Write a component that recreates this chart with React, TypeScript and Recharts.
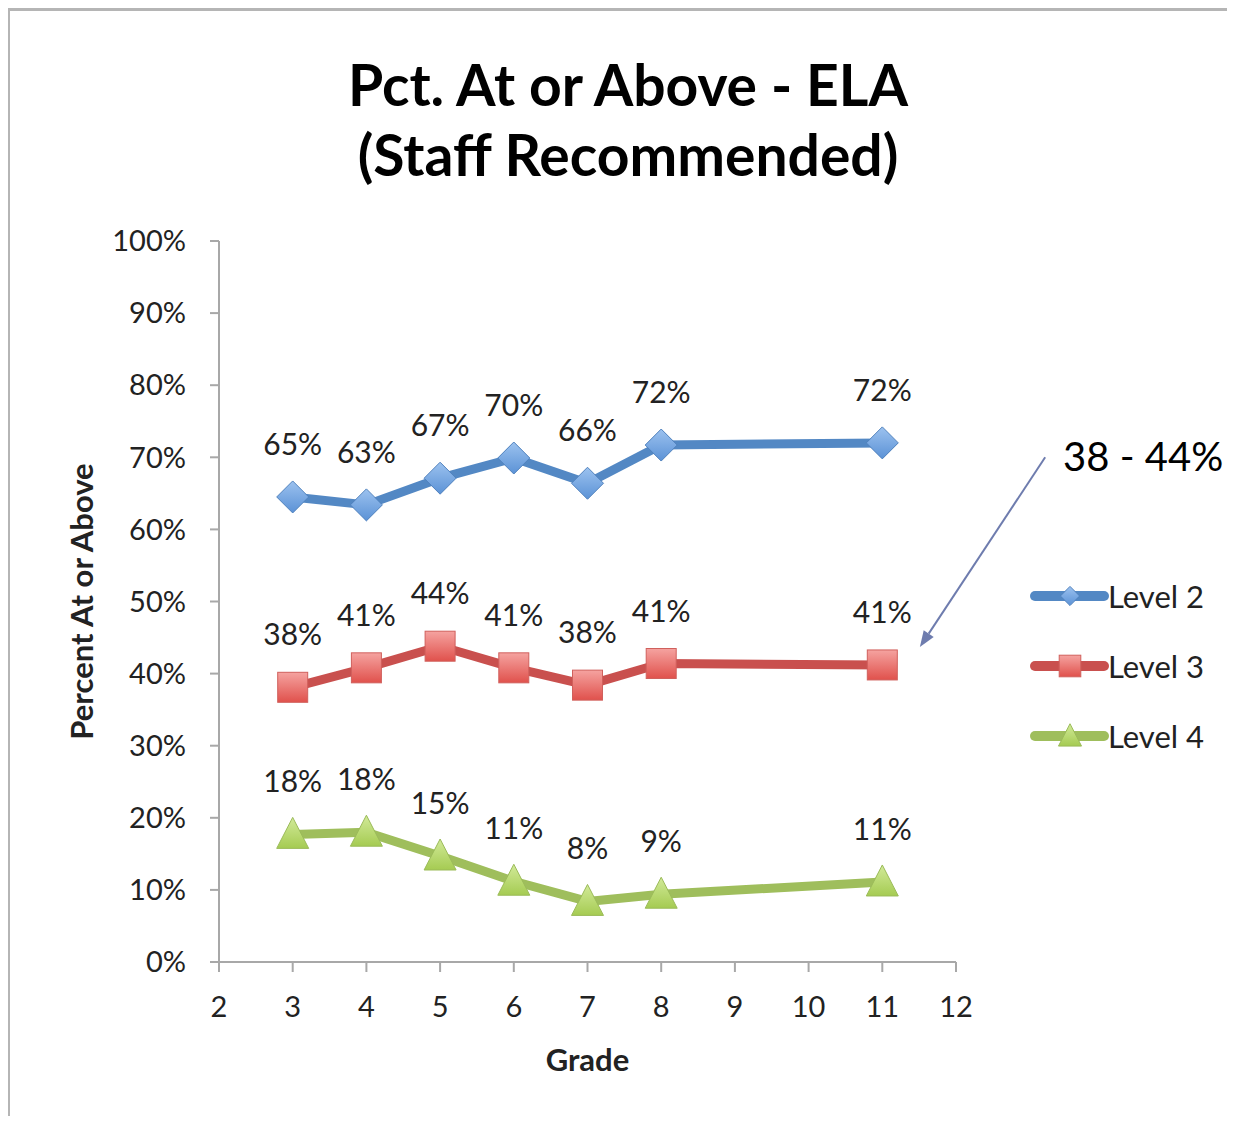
import React from 'react'
import { LineChart, Line, XAxis, YAxis, Legend, ReferenceLine, LabelList } from 'recharts'

const FONT = 'Lato, "Open Sans", sans-serif'

const grades = [3, 4, 5, 6, 7, 8, 11]
const level2 = [64.5, 63.4, 67.1, 69.9, 66.4, 71.7, 72.0]
const level3 = [38.1, 40.8, 43.8, 40.8, 38.4, 41.4, 41.2]
const level4 = [17.7, 18.0, 14.7, 11.2, 8.4, 9.4, 11.1]
const xTicks = [2, 3, 4, 5, 6, 7, 8, 9, 10, 11, 12]
const yTicks = [0, 10, 20, 30, 40, 50, 60, 70, 80, 90, 100]

const data = grades.map((g, i) => ({ grade: g, l2: level2[i], l3: level3[i], l4: level4[i] }))

// arrow from the "38 - 44%" note to the Level 3 line, in data units
const arrowFrom = { x: 13.21, y: 70.0 }
const arrowTo = { x: 11.51, y: 43.7 }

const SERIES = [
  { key: 'l2', name: 'Level 2', stroke: '#5388C4', fill: 'url(#gBlue)', edge: '#4F81BD', shape: 'diamond' },
  { key: 'l3', name: 'Level 3', stroke: '#C9504E', fill: 'url(#gRed)', edge: '#D0605C', shape: 'square' },
  { key: 'l4', name: 'Level 4', stroke: '#9FBE5C', fill: 'url(#gGreen)', edge: '#9BBB59', shape: 'triangle' },
]

const Marker = ({ cx, cy, shape, fill, edge, k = 1 }) => {
  if (cx == null || cy == null) return null
  if (shape === 'diamond') {
    const r = 16 * k
    return <polygon points={`${cx},${cy - r} ${cx + r},${cy} ${cx},${cy + r} ${cx - r},${cy}`} fill={fill} stroke={edge} strokeWidth={1} />
  }
  if (shape === 'square') {
    const r = 15 * k
    return <rect x={cx - r} y={cy - r} width={2 * r} height={2 * r} fill={fill} stroke={edge} strokeWidth={1} />
  }
  return (
    <polygon
      points={`${cx},${cy - 17 * k} ${cx + 16 * k},${cy + 14 * k} ${cx - 16 * k},${cy + 14 * k}`}
      fill={fill}
      stroke={edge}
      strokeWidth={1}
    />
  )
}

const Arrow = (props) => {
  const { x1, y1, x2, y2 } = props
  if (x1 == null) return null
  const ang = Math.atan2(y2 - y1, x2 - x1)
  const len = 16
  const w = 6
  const bx = x2 - len * Math.cos(ang)
  const by = y2 - len * Math.sin(ang)
  const px = -Math.sin(ang) * w
  const py = Math.cos(ang) * w
  return (
    <g>
      <line x1={x1} y1={y1} x2={bx} y2={by} stroke="#6E7CAE" strokeWidth={2} />
      <polygon points={`${x2},${y2} ${bx + px},${by + py} ${bx - px},${by - py}`} fill="#6E7CAE" />
    </g>
  )
}

const LegendBox = () => (
  <div style={{ fontFamily: FONT }}>
    {SERIES.map((s) => (
      <div key={s.key} style={{ display: 'flex', alignItems: 'center', height: 70 }}>
        <svg width={80} height={36}>
          <line x1={5} y1={18} x2={74} y2={18} stroke={s.stroke} strokeWidth={10} strokeLinecap="round" />
          <Marker cx={40} cy={18} shape={s.shape} fill={s.fill} edge={s.edge} k={s.shape === 'diamond' ? 0.6 : 0.72} />
        </svg>
        <span style={{ fontSize: 31, color: '#222', marginLeft: -2 }}>{s.name}</span>
      </div>
    ))}
  </div>
)

export default function App() {
  return (
    <div style={{ position: 'relative', width: 1219, height: 1108, fontFamily: FONT }}>
      <style>{'html, body { overflow: hidden; }'}</style>
      <svg width={0} height={0} style={{ position: 'absolute' }}>
        <defs>
          <linearGradient id="gBlue" x1="0" y1="0" x2="0" y2="1">
            <stop offset="0%" stopColor="#9CC2EF" />
            <stop offset="100%" stopColor="#5B92D6" />
          </linearGradient>
          <linearGradient id="gRed" x1="0" y1="0" x2="0" y2="1">
            <stop offset="0%" stopColor="#F5A3A0" />
            <stop offset="100%" stopColor="#E0514C" />
          </linearGradient>
          <linearGradient id="gGreen" x1="0" y1="0" x2="0" y2="1">
            <stop offset="0%" stopColor="#D2EA99" />
            <stop offset="100%" stopColor="#A5CB52" />
          </linearGradient>
        </defs>
      </svg>
      <div style={{ position: 'absolute', left: -1, top: 0, width: 1240, height: 1116, borderTop: '3px solid #B5B5B5', borderLeft: '3px solid #B5B5B5', boxSizing: 'border-box' }} />
      <div style={{ position: 'absolute', left: 0, top: 41, width: 1240, textAlign: 'center', fontSize: 57, fontWeight: 700, lineHeight: '70px', color: '#000' }}>
        Pct. At or Above - ELA
        <br />
        (Staff Recommended)
      </div>
      <div style={{ position: 'absolute', left: 1055, top: 424, fontSize: 40, color: '#000', whiteSpace: 'nowrap' }}>
        38 - 44%
      </div>
      <LineChart width={1227} height={1116} data={data} margin={{ top: 233, right: 279, bottom: 62, left: 0 }} style={{ position: 'absolute', left: 0, top: 0 }}>
        <XAxis
          dataKey="grade"
          type="number"
          domain={[2, 12]}
          ticks={xTicks}
          interval={0}
          height={100}
          stroke="#A8A8A8"
          strokeWidth={2}
          tickSize={10}
          tickMargin={24}
          tick={{ fill: '#222', fontSize: 29, fontFamily: FONT }}
          label={({ viewBox }) => (
            <text x={viewBox.x + viewBox.width / 2} y={viewBox.y + 109} textAnchor="middle" fontSize={31} fontWeight={700} fontFamily={FONT} fill="#222">
              Grade
            </text>
          )}
        />
        <YAxis
          type="number"
          domain={[0, 100]}
          ticks={yTicks}
          interval={0}
          width={211}
          stroke="#A8A8A8"
          strokeWidth={2}
          tickSize={9}
          tickMargin={24}
          tickFormatter={(v) => `${v}%`}
          tick={{ fill: '#222', fontSize: 29, fontFamily: FONT }}
          label={({ viewBox }) => {
            const cx = viewBox.x + 85
            const cy = viewBox.y + viewBox.height / 2
            return (
              <text x={cx} y={cy} transform={`rotate(-90 ${cx} ${cy})`} textAnchor="middle" fontSize={31} fontWeight={700} fontFamily={FONT} fill="#222">
                Percent At or Above
              </text>
            )
          }}
        />
        {SERIES.map((s) => (
          <Line
            key={s.key}
            dataKey={s.key}
            name={s.name}
            stroke={s.stroke}
            strokeWidth={9}
            strokeLinejoin="round"
            isAnimationActive={false}
            dot={(p) => <Marker key={p.index} cx={p.cx} cy={p.cy} shape={s.shape} fill={s.fill} edge={s.edge} />}
            activeDot={false}
          >
            <LabelList
              dataKey={s.key}
              position="top"
              offset={42}
              fill="#222"
              fontSize={30}
              fontFamily={FONT}
              formatter={(v) => `${Math.round(v)}%`}
            />
          </Line>
        ))}
        <ReferenceLine segment={[arrowFrom, arrowTo]} ifOverflow="visible" shape={Arrow} />
        <Legend
          layout="vertical"
          verticalAlign="middle"
          align="center"
          content={LegendBox}
          wrapperStyle={{ left: 1022, top: 553, width: 200 }}
        />
      </LineChart>
    </div>
  )
}
